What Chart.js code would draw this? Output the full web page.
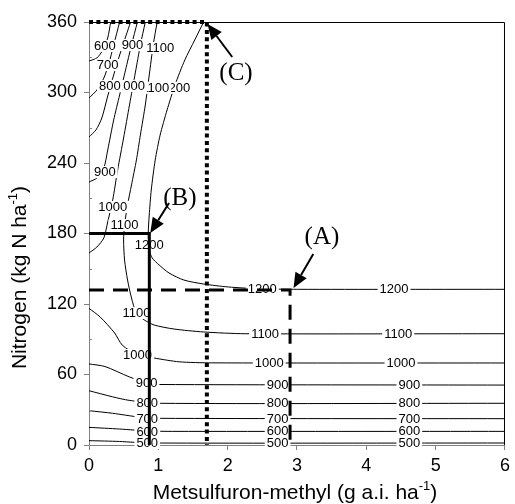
<!DOCTYPE html>
<html>
<head>
<meta charset="utf-8">
<script src="https://cdn.jsdelivr.net/npm/chart.js@4.4.1/dist/chart.umd.min.js"></script>
<style>
  html, body { margin: 0; padding: 0; background: #fff; }
</style>
</head>
<body>
<canvas id="chart" width="515" height="504"></canvas>
<script>
// axis ticks
const xTicks = [0, 1, 2, 3, 4, 5, 6];
const yTicks = [0, 60, 120, 180, 240, 300, 360];

// contour lines, points are [metsulfuron (g a.i./ha), nitrogen (kg N/ha)]
const c500 = [[0, 3.7], [0.44, 3], [0.87, 1.7], [6, 1.7]];
const c600 = [[0, 15], [0.44, 13.6], [0.87, 11.9], [1.2, 11.6], [6, 11.6]];
const c700 = [[0, 29.2], [0.34, 27], [0.72, 23.8], [1.0, 22.7], [6, 22.4]];
const c800 = [[0, 46.2], [0.34, 41], [0.58, 38], [1.0, 35.5], [6, 35.5]];
const c900 = [[0, 69], [0.23, 66.8], [0.58, 58], [0.85, 52.5], [1.0, 51.5], [6, 51]];
const c1000 = [[0, 116.3], [0.16, 109], [0.37, 95.3], [0.48, 85], [0.7, 76.6], [0.94, 74], [1.3, 70.8], [1.77, 69.9], [6, 69.8]];
const c600top = [[0, 326.8], [0.114, 329.4], [0.2, 336.2], [0.27, 346.4], [0.313, 360]];
const c700top = [[0, 295.3], [0.114, 302.1], [0.214, 312.3], [0.285, 324.3], [0.356, 340.4], [0.442, 360]];
const c800top = [[0, 262.1], [0.1, 268.1], [0.185, 278.3], [0.27, 297], [0.356, 314.9], [0.456, 334.5], [0.6, 360]];
const c900top = [[0, 223.8], [0.114, 227.2], [0.214, 235.7], [0.27, 251.1], [0.356, 276.6], [0.442, 297.9], [0.527, 319.1], [0.613, 340.4], [0.698, 360]];
const c1000top = [[0, 163.4], [0.114, 168.5], [0.214, 176.2], [0.27, 189.8], [0.342, 208.5], [0.413, 234], [0.499, 261.3], [0.584, 289.4], [0.67, 317.4], [0.741, 340.4], [0.812, 360]];
const c1100 = [[0.983, 360], [0.926, 340.4], [0.869, 314.9], [0.812, 289.4], [0.741, 263.8], [0.684, 242.6], [0.613, 221.3], [0.556, 204.3], [0.513, 187.2], [0.499, 174.5], [0.513, 157.4], [0.556, 140.4], [0.613, 125.1], [0.684, 112.3], [0.798, 106.4], [0.941, 102.1], [1.226, 98.7], [1.653, 96.2], [2.252, 94.7], [6, 94.7]];
const c1200 = [[1.653, 360], [1.525, 344.7], [1.382, 327.7], [1.24, 306.4], [1.126, 285.1], [1.026, 263.8], [0.955, 242.6], [0.898, 217], [0.869, 195.7], [0.855, 180.4], [0.869, 166], [0.912, 159.1], [1.012, 153.2], [1.154, 146.4], [1.368, 140.4], [1.653, 137], [2.009, 134.5], [2.437, 133], [3.007, 132.5], [6, 132.5]];
const contours = [c500, c600, c700, c800, c900, c1000, c600top, c700top, c800top, c900top, c1000top, c1100, c1200];

// contour labels: [level, x, N]
const contourLabels = [
  [500, 0.84, 1.7], [500, 2.72, 1.7], [500, 4.62, 1.7],
  [600, 0.84, 11.3], [600, 2.72, 11.6], [600, 4.62, 11.6],
  [700, 0.84, 22.6], [700, 2.72, 22.4], [700, 4.62, 22.4],
  [800, 0.84, 35.6], [800, 2.72, 35.5], [800, 4.62, 35.5],
  [900, 0.83, 52.8], [900, 2.72, 51], [900, 4.62, 51],
  [1000, 0.70, 76.6], [1000, 2.6, 69.8], [1000, 4.5, 69.8],
  [1100, 0.684, 112.3], [1100, 2.54, 94.7], [1100, 4.46, 94.7],
  [1200, 0.87, 170.2], [1200, 2.5, 132.5], [1200, 4.4, 132.5],
  [1100, 0.513, 187.2], [1000, 0.342, 202.6], [900, 0.228, 232.3],
  [1200, 1.25, 304], [1100, 0.955, 304], [1000, 0.6, 305.5], [800, 0.30, 305.5],
  [700, 0.27, 323.4], [600, 0.228, 339.6], [900, 0.627, 340.4], [1100, 1.026, 337.9]
];

// optimum paths (A), (B), (C)
const pathA = [[0, 132], [2.9, 132], [2.9, 0]];
const pathB = [[0, 180], [0.87, 180], [0.87, 0]];
const pathC = [[0, 360], [1.7, 360], [1.7, 0]];

// arrows: [fromX, fromN, tipX, tipN] and letters [text, x, N]
const arrows = [[3.235, 162.6, 2.95, 133.6], [1.154, 206, 0.884, 180.4], [2.066, 330.2, 1.71, 358.3]];
const letters = [['(A)', 3.36, 177], ['(B)', 1.31, 210.2], ['(C)', 2.12, 316.6]];

const SANS = '"Liberation Sans", Arial, sans-serif';
const SERIF = '"Liberation Serif", "Times New Roman", serif';

const toXY = pts => pts.map(p => ({ x: p[0], y: p[1] }));

const datasets = [
  { data: toXY(pathA), borderColor: '#000', borderWidth: 3, borderDash: [15, 9], clip: false },
  { data: toXY(pathB), borderColor: '#000', borderWidth: 3, clip: false },
  { data: toXY(pathC), borderColor: '#000', borderWidth: 4, borderDash: [4, 3.4], clip: false }
];
contours.forEach(c => datasets.push({ data: toXY(c), borderColor: '#000', borderWidth: 1, tension: 0.25 }));
datasets.forEach(d => { d.showLine = true; d.pointRadius = 0; d.fill = false; });

function drawRich(ctx, parts, size) {
  // parts: [text, isSuperscript]
  let w = 0;
  parts.forEach(p => {
    ctx.font = (p[1] ? Math.round(size * 0.62) : size) + 'px ' + SANS;
    w += ctx.measureText(p[0]).width;
  });
  let x = -w / 2;
  parts.forEach(p => {
    ctx.font = (p[1] ? Math.round(size * 0.62) : size) + 'px ' + SANS;
    ctx.fillText(p[0], x, p[1] ? -size * 0.45 : 0);
    x += ctx.measureText(p[0]).width;
  });
}

const extras = {
  id: 'extras',
  afterDatasetDraw(chart, args) {
    if (args.index !== 3) return;
    const ctx = chart.ctx, xs = chart.scales.x, ys = chart.scales.y;
    ctx.save();
    ctx.font = '13px ' + SANS;
    ctx.textAlign = 'center';
    ctx.textBaseline = 'middle';
    contourLabels.forEach(l => {
      const t = String(l[0]);
      const px = xs.getPixelForValue(l[1]), py = ys.getPixelForValue(l[2]);
      const w = ctx.measureText(t).width;
      ctx.fillStyle = '#fff';
      ctx.fillRect(px - w / 2 - 2, py - 6, w + 4, 12);
      ctx.fillStyle = '#000';
      ctx.fillText(t, px, py + 0.5);
    });
    ctx.restore();
  },
  afterDraw(chart) {
    const ctx = chart.ctx, a = chart.chartArea, xs = chart.scales.x, ys = chart.scales.y;
    ctx.save();
    // frame top / right
    ctx.strokeStyle = '#000';
    ctx.lineWidth = 1;
    ctx.beginPath();
    ctx.moveTo(a.left, a.top + 0.5);
    ctx.lineTo(a.right - 0.5, a.top + 0.5);
    ctx.lineTo(a.right - 0.5, a.bottom);
    ctx.stroke();
    // minor ticks on y
    ctx.strokeStyle = '#808080';
    ctx.beginPath();
    for (let i = 0; i < yTicks.length - 1; i++) {
      const py = Math.round(ys.getPixelForValue((yTicks[i] + yTicks[i + 1]) / 2)) + 0.5;
      ctx.moveTo(a.left, py);
      ctx.lineTo(a.left + 3, py);
    }
    ctx.stroke();

    // arrows
    ctx.fillStyle = '#000';
    ctx.strokeStyle = '#000';
    ctx.lineWidth = 2;
    arrows.forEach(ar => {
      const x0 = xs.getPixelForValue(ar[0]), y0 = ys.getPixelForValue(ar[1]);
      const x1 = xs.getPixelForValue(ar[2]), y1 = ys.getPixelForValue(ar[3]);
      const ang = Math.atan2(y1 - y0, x1 - x0);
      const hl = 15, hw = 6.5;
      const bx = x1 - hl * Math.cos(ang), by = y1 - hl * Math.sin(ang);
      ctx.beginPath();
      ctx.moveTo(x0, y0);
      ctx.lineTo(bx, by);
      ctx.stroke();
      ctx.beginPath();
      ctx.moveTo(x1, y1);
      ctx.lineTo(bx + hw * Math.sin(ang), by - hw * Math.cos(ang));
      ctx.lineTo(bx - hw * Math.sin(ang), by + hw * Math.cos(ang));
      ctx.closePath();
      ctx.fill();
    });
    ctx.font = '25px ' + SERIF;
    ctx.textAlign = 'center';
    ctx.textBaseline = 'middle';
    letters.forEach(l => {
      ctx.fillText(l[0], xs.getPixelForValue(l[1]), ys.getPixelForValue(l[2]));
    });

    // axis titles
    ctx.textAlign = 'left';
    ctx.textBaseline = 'alphabetic';
    ctx.save();
    ctx.translate((a.left + a.right) / 2 - 2, 499);
    drawRich(ctx, [['Metsulfuron-methyl (g a.i. ha', false], ['-1', true], [')', false]], 21);
    ctx.restore();
    ctx.save();
    ctx.translate(26, (a.top + a.bottom) / 2 + 44);
    ctx.rotate(-Math.PI / 2);
    drawRich(ctx, [['Nitrogen (kg N ha', false], ['-1', true], [')', false]], 21);
    ctx.restore();
    ctx.restore();
  }
};

new Chart(document.getElementById('chart'), {
  type: 'scatter',
  data: { datasets: datasets },
  options: {
    responsive: false,
    animation: false,
    layout: { padding: { top: 22, right: 5, left: 0, bottom: 0 } },
    plugins: { legend: { display: false }, tooltip: { enabled: false } },
    scales: {
      x: {
        type: 'linear',
        min: xTicks[0], max: xTicks[xTicks.length - 1],
        ticks: { stepSize: 1, color: '#000', font: { size: 18, family: SANS }, padding: 5, maxRotation: 0 },
        grid: { drawOnChartArea: false, tickLength: 5, color: '#808080' },
        border: { color: '#808080' },
        afterFit(s) { s.height = 59; }
      },
      y: {
        min: yTicks[0], max: yTicks[yTicks.length - 1],
        ticks: { stepSize: 60, color: '#000', font: { size: 18, family: SANS }, padding: 7 },
        grid: { drawOnChartArea: false, tickLength: 5, color: '#808080' },
        border: { color: '#808080' },
        afterFit(s) { s.width = 89; }
      }
    }
  },
  plugins: [extras]
});
</script>
</body>
</html>
